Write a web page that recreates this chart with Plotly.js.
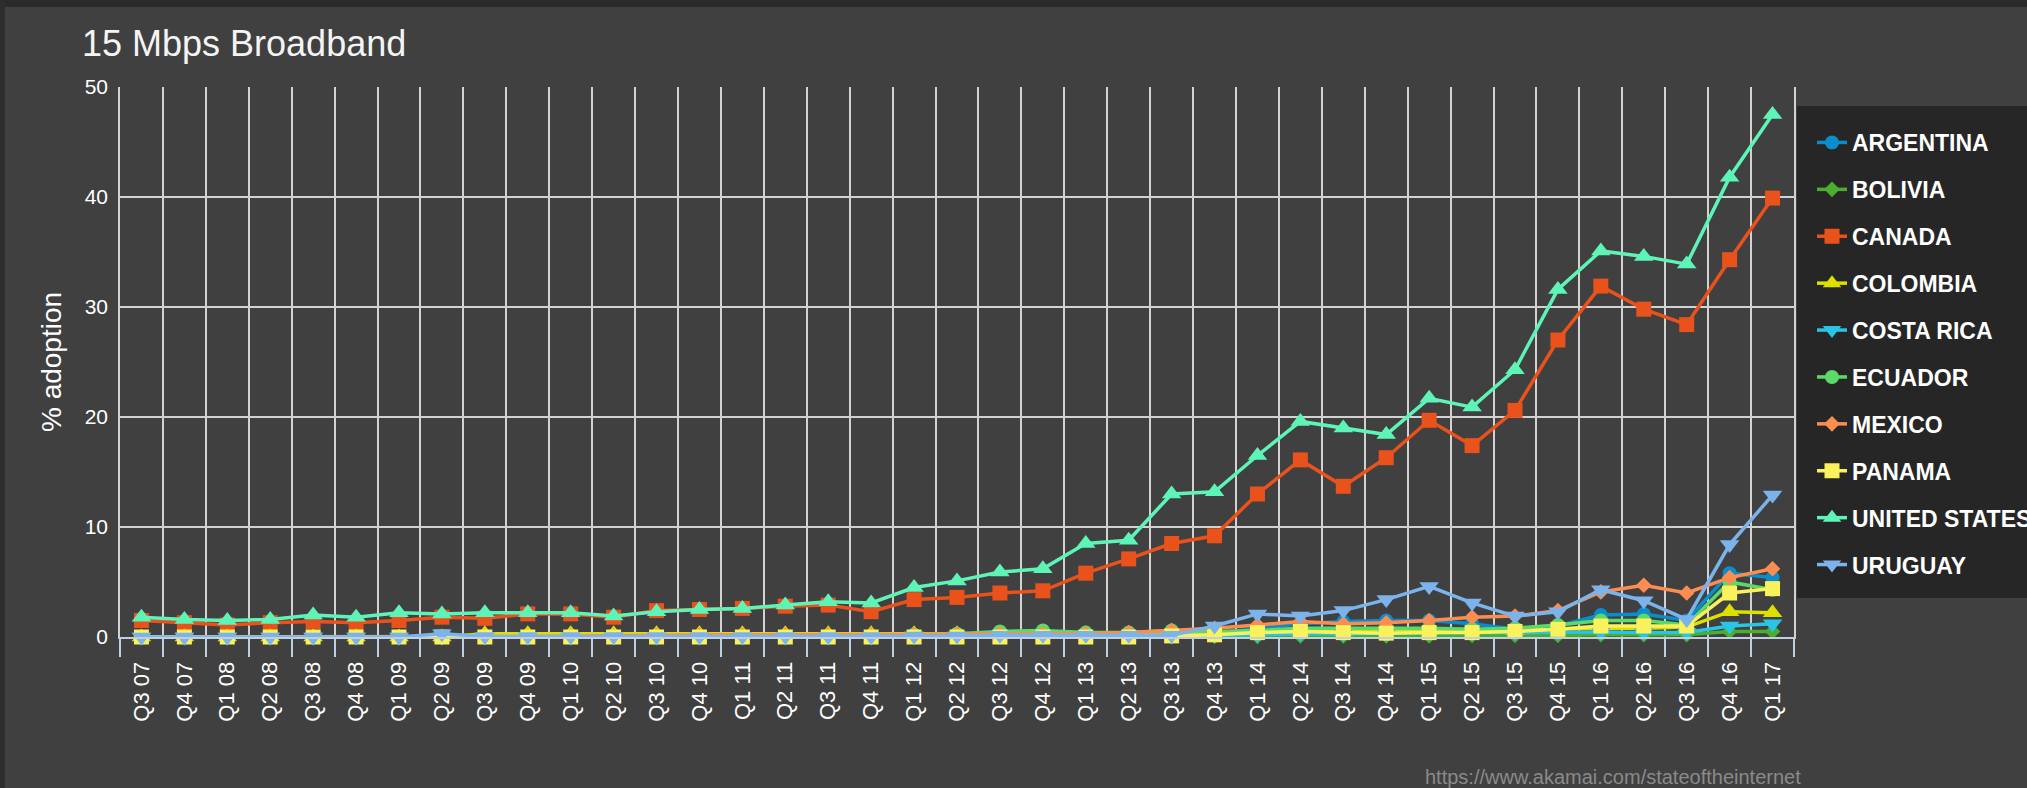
<!DOCTYPE html>
<html><head><meta charset="utf-8">
<script src="https://cdn.plot.ly/plotly-3.0.1.min.js"></script>
<style>
html,body{margin:0;padding:0;background:#404040;overflow:hidden;}
#topbar{position:absolute;left:0;top:0;width:2027px;height:7px;background:#2a2a2a;}
#leftbar{position:absolute;left:0;top:0;width:5px;height:788px;background:#2d2d2d;}
#chart{position:absolute;left:0;top:0;width:2027px;height:788px;}
</style></head><body>
<div id="topbar"></div><div id="leftbar"></div><div id="chart"></div>
<script>
const quarters = ["Q3 07","Q4 07","Q1 08","Q2 08","Q3 08","Q4 08","Q1 09","Q2 09","Q3 09","Q4 09",
  "Q1 10","Q2 10","Q3 10","Q4 10","Q1 11","Q2 11","Q3 11","Q4 11","Q1 12","Q2 12","Q3 12","Q4 12",
  "Q1 13","Q2 13","Q3 13","Q4 13","Q1 14","Q2 14","Q3 14","Q4 14","Q1 15","Q2 15","Q3 15","Q4 15",
  "Q1 16","Q2 16","Q3 16","Q4 16","Q1 17"];

const argentina = [0,0,0,0,0,0,0,0,0.05,0.05,0.05,0.05,0.05,0.05,0.1,0.1,0.1,0.1,0.2,0.2,0.3,0.3,0.3,0.3,0.3,0.3,0.8,1.2,1.4,1.5,1.5,1.2,0.7,1.0,2.0,2.1,1.5,5.8,5.4];
const bolivia = [0,0,0,0,0,0,0,0,0,0,0,0,0,0,0,0,0,0,0,0,0,0,0,0,0.05,0.05,0.05,0.1,0.1,0.1,0.1,0.15,0.15,0.15,0.2,0.2,0.2,0.5,0.5];
const canada = [1.5,1.3,1.1,1.3,1.4,1.3,1.5,1.8,1.7,2.1,2.1,1.8,2.4,2.5,2.6,2.8,2.9,2.3,3.4,3.6,4.0,4.2,5.8,7.1,8.5,9.2,13.0,16.1,13.7,16.3,19.7,17.4,20.6,27.0,31.9,29.8,28.4,34.3,39.9];
const colombia = [0,0,0,0,0,0,0,0,0.3,0.3,0.3,0.3,0.3,0.3,0.3,0.3,0.3,0.3,0.3,0.3,0.3,0.3,0.3,0.3,0.3,0.4,0.5,0.5,0.5,0.6,0.6,0.7,0.6,0.7,0.8,0.8,0.9,2.3,2.2];
const costaRica = [0,0,0,0,0,0,0,0,0,0,0,0,0,0,0,0,0,0,0.1,0.1,0.1,0.1,0.1,0.1,0.1,0.15,0.2,0.3,0.3,0.35,0.4,0.4,0.4,0.45,0.45,0.4,0.4,1.0,1.2];
const ecuador = [0,0,0,0,0,0,0,0,0,0,0,0,0,0,0,0,0.1,0.1,0.2,0.3,0.5,0.6,0.4,0.4,0.6,0.5,0.6,0.8,0.8,0.8,0.8,0.7,0.8,1.1,1.5,1.5,1.1,5.0,4.3];
const mexico = [0,0,0,0,0,0,0,0,0.05,0.05,0.1,0.1,0.15,0.2,0.2,0.2,0.2,0.2,0.2,0.25,0.3,0.3,0.3,0.4,0.6,0.8,1.1,1.4,1.2,1.3,1.5,1.8,1.9,2.4,4.1,4.7,4.0,5.4,6.2];
const panama = [0,0,0,0,0,0,0,0,0,0,0,0,0,0,0,0,0,0,0,0,0,0,0,0,0.1,0.2,0.4,0.5,0.4,0.35,0.4,0.4,0.5,0.7,1.0,1.0,1.0,4.0,4.4];
const unitedStates = [1.8,1.6,1.5,1.6,2.0,1.8,2.2,2.1,2.2,2.2,2.2,1.9,2.3,2.5,2.6,2.9,3.2,3.1,4.5,5.1,5.9,6.2,8.5,8.8,13.0,13.2,16.5,19.6,19.0,18.4,21.7,20.9,24.3,31.6,35.1,34.6,33.9,41.8,47.5];
const uruguay = [0,0,0,0,0,0,0,0.3,0.05,0.05,0.05,0.05,0.05,0.05,0.05,0.05,0.05,0.05,0.1,0.1,0.15,0.15,0.15,0.15,0.15,1.0,2.1,1.9,2.4,3.4,4.6,3.1,1.9,2.3,4.3,3.3,1.6,8.4,12.9];

const seriesNames = ["ARGENTINA","BOLIVIA","CANADA","COLOMBIA","COSTA RICA","ECUADOR","MEXICO","PANAMA","UNITED STATES","URUGUAY"];
const seriesValues = [argentina,bolivia,canada,colombia,costaRica,ecuador,mexico,panama,unitedStates,uruguay];
const seriesColors = ["#0b8ccd","#4aae2e","#e9521b","#dcdf00","#29c5e6","#5adb68","#fb8d50","#f9f25c","#5ef4b8","#7bb3ea"];
const seriesSymbols = ["circle","diamond","square","triangle-up","triangle-down","circle","diamond","square","triangle-up","triangle-down"];
const symbolSizes = {"circle":14,"diamond":12,"square":15,"triangle-up":17,"triangle-down":17};

const traces = seriesNames.map((n,i)=>({
  type:"scatter", mode:"lines+markers", name:n, legendgroup:n,
  x:quarters, y:seriesValues[i],
  line:{color:seriesColors[i], width:3.5},
  marker:{color:seriesColors[i], symbol:seriesSymbols[i], size:symbolSizes[seriesSymbols[i]], line:{width:0}},
  cliponaxis:false, hoverinfo:"x+y+name"
}));

const F = '"Liberation Sans", Arial, Helvetica, sans-serif';
const PX = v => (v-120)/1674;      // page x -> paper x
const PY = v => (637-v)/550;       // page y -> paper y
const layout = {
  width:2027, height:788,
  paper_bgcolor:"rgba(0,0,0,0)", plot_bgcolor:"rgba(0,0,0,0)",
  margin:{l:120, r:233, t:87, b:151, autoexpand:false},
  font:{family:F, color:"#ffffff"},
  title:{text:"15 Mbps Broadband", font:{family:F, size:36, color:"#f4f4f4"},
    x:82/2027, xref:"container", xanchor:"left", y:1-43/788, yref:"container", yanchor:"middle"},
  xaxis:{type:"category", categoryorder:"array", categoryarray:quarters, range:[-0.5, quarters.length-0.5],
    autorange:false,
    tickson:"boundaries", ticks:"outside", ticklen:18, tickwidth:2, tickcolor:"#c0d0e0",
    ticklabelstandoff:14,
    showline:true, linecolor:"#c0d0e0", linewidth:2,
    showgrid:true, gridcolor:"#d2d2d2", gridwidth:1.5,
    tickangle:-90, tickfont:{family:F, size:22, color:"#ffffff"}, fixedrange:true},
  yaxis:{range:[0,50], autorange:false, dtick:10, tick0:0, showgrid:true, gridcolor:"#d2d2d2", gridwidth:2,
    zeroline:false, showline:true, mirror:true, linecolor:"#d2d2d2", linewidth:1.5,
    ticks:"outside", ticklen:6, tickcolor:"rgba(0,0,0,0)",
    tickfont:{family:F, size:21, color:"#ffffff"},
    title:{text:"% adoption", font:{family:F, size:28, color:"#ffffff"}, standoff:15}, fixedrange:true},
  legend:{x:PX(1812), xanchor:"left", y:PY(121), yanchor:"top",
    bgcolor:"rgba(0,0,0,0)", borderwidth:0, tracegroupgap:14,
    font:{family:F, size:23, color:"#ffffff", weight:"bold"}},
  shapes:[{type:"rect", xref:"paper", yref:"paper", x0:PX(1797), x1:PX(2040), y0:PY(598), y1:PY(106),
    fillcolor:"#262626", line:{width:0}, layer:"below"}],
  annotations:[{text:"https://www.akamai.com/stateoftheinternet", showarrow:false,
    xref:"paper", yref:"paper", x:PX(1803), xanchor:"right", y:PY(777), yanchor:"middle",
    font:{family:F, size:20, color:"#8a8a8a"}}]
};
Plotly.newPlot("chart", traces, layout, {displayModeBar:false});
</script></body></html>
